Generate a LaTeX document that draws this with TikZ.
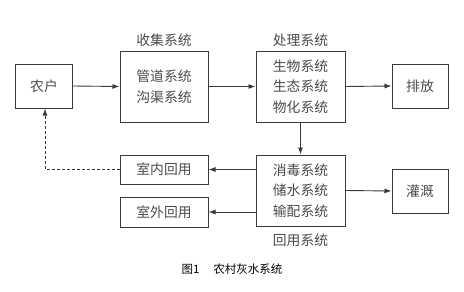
\documentclass[tikz,border=0pt]{standalone}
\usepackage{fontspec}
\setmainfont{Noto Sans CJK SC}
\newfontfamily\cjk{Noto Sans CJK SC}
\usetikzlibrary{arrows.meta}
\definecolor{ln}{HTML}{3A3A3A}
\definecolor{tx}{HTML}{4A4A4A}
\begin{document}
\begin{tikzpicture}[x=1pt,y=-1pt,
  box/.style={draw=ln,line width=1pt,text=tx,font=\cjk\fontsize{13.8}{20.5}\selectfont,align=center,inner sep=0pt},
  lbl/.style={text=tx,font=\cjk\fontsize{13.8}{16}\selectfont,inner sep=0pt},
  arr/.style={draw=ln,line width=0.9pt,-{Latex[length=7pt,width=5pt]}}]
\useasboundingbox (0,0) rectangle (464,292);
\node[box,minimum width=57pt,minimum height=44pt] (nh) at (44,86) {农户};
\node[box,minimum width=88pt,minimum height=71pt] (sj) at (164,86.5) {管道系统\\沟渠系统};
\node[lbl] (sjl) at (164,40) {收集系统};
\node[box,minimum width=89pt,minimum height=71pt] (cl) at (300.5,86.5) {生物系统\\生态系统\\物化系统};
\node[lbl] (cll) at (300.5,40) {处理系统};
\node[box,minimum width=56pt,minimum height=44pt] (pf) at (420,86) {排放};
\node[box,minimum width=89pt,minimum height=71pt] (hy) at (300.5,190.5) {消毒系统\\储水系统\\输配系统};
\node[lbl] (hyl) at (300.5,240) {回用系统};
\node[box,minimum width=56pt,minimum height=44pt] (gg) at (420,191) {灌溉};
\node[box,minimum width=88pt,minimum height=29pt] (sn) at (164,169.5) {室内回用};
\node[box,minimum width=88pt,minimum height=30pt] (sw) at (164,212) {室外回用};
\node[font=\cjk\fontsize{11.5}{13}\selectfont,text=black,inner sep=0pt] (cap) at (232,269) {图1\hspace{1.2em}农村灰水系统};
\draw[arr] (nh.east) -- (sj.west);
\draw[arr] (sj.east) -- (cl.west);
\draw[arr] (cl.east) -- (pf.west);
\draw[arr] (cl.south) -- (hy.north);
\draw[arr] (hy.east) -- (gg.west);
\draw[arr] (hy.west |- sn.east) -- (sn.east);
\draw[arr] (hy.west |- sw.east) -- (sw.east);
\coordinate (bend) at (45,169.5);
\draw[arr,dashed,dash pattern=on 3pt off 2pt] (sn.west) -- (bend) -- (bend |- nh.south);
\end{tikzpicture}
\end{document}
